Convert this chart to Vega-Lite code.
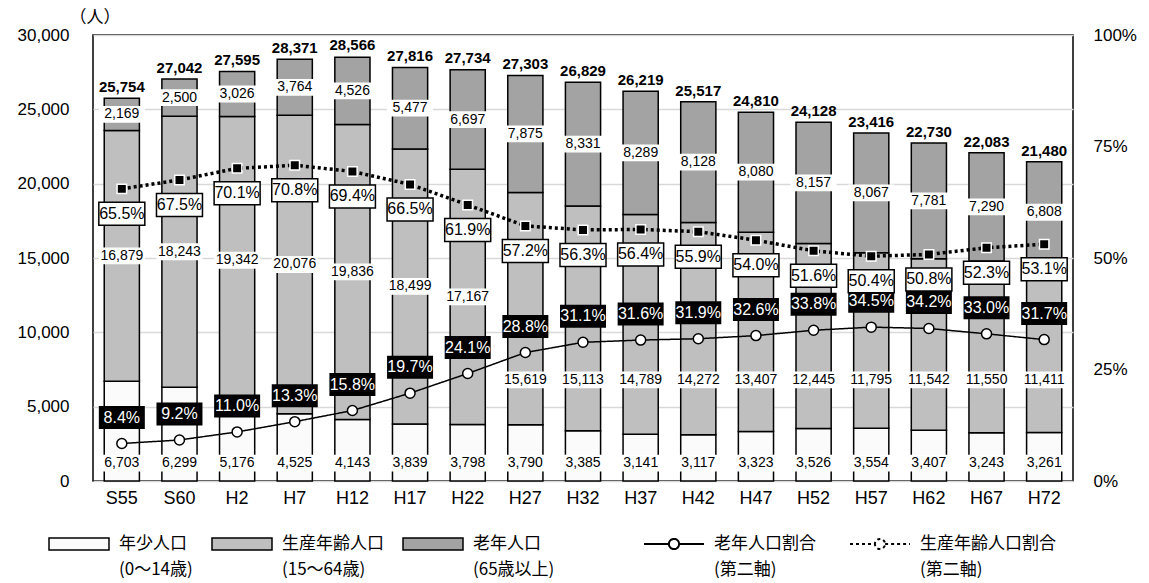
{
  "$schema": "https://vega.github.io/schema/vega-lite/v6.json",
  "width": 980,
  "height": 446,
  "autosize": {"type": "none"},
  "padding": {"left": 93, "top": 35, "right": 76, "bottom": 102},
  "background": "white",
  "config": {
    "view": {"stroke": "black", "strokeWidth": 1.5},
    "axis": {"labelFont": "Liberation Sans", "labelColor": "black"},
    "text": {"font": "Liberation Sans", "color": "black"},
    "style": {"guide-label": {"lineHeight": 26}}
  },
  "data": {
    "values": [
      {"year": "S55", "年少人口": 6703, "生産年齢人口": 16879, "老年人口": 2169, "total": 25754, "老年人口割合": 8.4, "生産年齢人口割合": 65.5},
      {"year": "S60", "年少人口": 6299, "生産年齢人口": 18243, "老年人口": 2500, "total": 27042, "老年人口割合": 9.2, "生産年齢人口割合": 67.5},
      {"year": "H2", "年少人口": 5176, "生産年齢人口": 19342, "老年人口": 3026, "total": 27595, "老年人口割合": 11.0, "生産年齢人口割合": 70.1},
      {"year": "H7", "年少人口": 4525, "生産年齢人口": 20076, "老年人口": 3764, "total": 28371, "老年人口割合": 13.3, "生産年齢人口割合": 70.8},
      {"year": "H12", "年少人口": 4143, "生産年齢人口": 19836, "老年人口": 4526, "total": 28566, "老年人口割合": 15.8, "生産年齢人口割合": 69.4},
      {"year": "H17", "年少人口": 3839, "生産年齢人口": 18499, "老年人口": 5477, "total": 27816, "老年人口割合": 19.7, "生産年齢人口割合": 66.5},
      {"year": "H22", "年少人口": 3798, "生産年齢人口": 17167, "老年人口": 6697, "total": 27734, "老年人口割合": 24.1, "生産年齢人口割合": 61.9},
      {"year": "H27", "年少人口": 3790, "生産年齢人口": 15619, "老年人口": 7875, "total": 27303, "老年人口割合": 28.8, "生産年齢人口割合": 57.2},
      {"year": "H32", "年少人口": 3385, "生産年齢人口": 15113, "老年人口": 8331, "total": 26829, "老年人口割合": 31.1, "生産年齢人口割合": 56.3},
      {"year": "H37", "年少人口": 3141, "生産年齢人口": 14789, "老年人口": 8289, "total": 26219, "老年人口割合": 31.6, "生産年齢人口割合": 56.4},
      {"year": "H42", "年少人口": 3117, "生産年齢人口": 14272, "老年人口": 8128, "total": 25517, "老年人口割合": 31.9, "生産年齢人口割合": 55.9},
      {"year": "H47", "年少人口": 3323, "生産年齢人口": 13407, "老年人口": 8080, "total": 24810, "老年人口割合": 32.6, "生産年齢人口割合": 54.0},
      {"year": "H52", "年少人口": 3526, "生産年齢人口": 12445, "老年人口": 8157, "total": 24128, "老年人口割合": 33.8, "生産年齢人口割合": 51.6},
      {"year": "H57", "年少人口": 3554, "生産年齢人口": 11795, "老年人口": 8067, "total": 23416, "老年人口割合": 34.5, "生産年齢人口割合": 50.4},
      {"year": "H62", "年少人口": 3407, "生産年齢人口": 11542, "老年人口": 7781, "total": 22730, "老年人口割合": 34.2, "生産年齢人口割合": 50.8},
      {"year": "H67", "年少人口": 3243, "生産年齢人口": 11550, "老年人口": 7290, "total": 22083, "老年人口割合": 33.0, "生産年齢人口割合": 52.3},
      {"year": "H72", "年少人口": 3261, "生産年齢人口": 11411, "老年人口": 6808, "total": 21480, "老年人口割合": 31.7, "生産年齢人口割合": 53.1}
    ]
  },
  "encoding": {
    "x": {
      "field": "year",
      "type": "nominal",
      "sort": ["S55","S60","H2","H7","H12","H17","H22","H27","H32","H37","H42","H47","H52","H57","H62","H67","H72"],
      "scale": {"paddingInner": 0.39, "paddingOuter": 0.195},
      "axis": {"title": null, "labelAngle": 0, "labelFontSize": 18, "labelPadding": 8, "ticks": false, "domain": false}
    }
  },
  "layer": [
    {
      "transform": [
        {"fold": ["年少人口", "生産年齢人口", "老年人口"], "as": ["series", "value"]},
        {"calculate": "indexof(['年少人口','生産年齢人口','老年人口'], datum.series)", "as": "ord"}
      ],
      "mark": {"type": "bar", "stroke": "black", "strokeWidth": 1.5},
      "encoding": {
        "y": {
          "field": "value", "type": "quantitative", "stack": "zero",
          "scale": {"domain": [0, 30000]},
          "axis": {
            "title": "（人）", "titleAngle": 0, "titleAlign": "left", "titleBaseline": "middle",
            "titleX": -24, "titleY": -18, "titleFont": "Noto Sans CJK JP", "titleFontSize": 17,
            "titleFontWeight": "normal", "titleColor": "black",
            "values": [0, 5000, 10000, 15000, 20000, 25000, 30000],
            "labelExpr": "format(datum.value, ',')",
            "labelFontSize": 17, "labelPadding": 24, "ticks": false, "domain": false,
            "grid": true, "gridColor": "#d9d9d9", "gridWidth": 1.5
          }
        },
        "color": {
          "field": "series", "type": "nominal",
          "scale": {
            "domain": ["年少人口", "生産年齢人口", "老年人口"],
            "range": ["#fbfbfb", "#bfbfbf", "#a3a3a3"]
          },
          "legend": {
            "orient": "none", "legendX": -45, "legendY": 478, "direction": "horizontal", "columns": 3,
            "title": null, "gridAlign": "none", "columnPadding": 16,
            "symbolType": "M-1,-0.2H1V0.2H-1Z", "symbolSize": 3600, "symbolStrokeColor": "black", "symbolStrokeWidth": 1.5,
            "labelFont": "Noto Sans CJK JP", "labelFontSize": 17, "labelColor": "black", "labelLimit": 400, "labelOffset": 9,
            "labelExpr": "datum.label == '年少人口' ? ['年少人口', '(0～14歳)'] : datum.label == '生産年齢人口' ? ['生産年齢人口', '(15～64歳)'] : ['老年人口', '(65歳以上)']"
          }
        },
        "order": {"field": "ord", "type": "quantitative"}
      }
    },
    {
      "transform": [
        {"fold": ["年少人口", "生産年齢人口", "老年人口"], "as": ["series", "value"]},
        {"calculate": "datum.series == '年少人口' ? 1200 : datum.series == '生産年齢人口' ? (datum['老年人口割合'] >= 25 ? 6800 : datum['年少人口'] + datum['生産年齢人口'] / 2) : datum['年少人口'] + datum['生産年齢人口'] + datum['老年人口'] / 2", "as": "pos"}
      ],
      "mark": {"type": "point", "shape": "M-1.15,-0.42H1.15V0.42H-1.15Z", "size": 1600, "filled": true, "fill": "white", "opacity": 1, "strokeWidth": 0},
      "encoding": {"y": {"field": "pos", "type": "quantitative", "scale": {"domain": [0, 30000]}, "axis": null}}
    },
    {
      "transform": [
        {"fold": ["年少人口", "生産年齢人口", "老年人口"], "as": ["series", "value"]},
        {"calculate": "datum.series == '年少人口' ? 1200 : datum.series == '生産年齢人口' ? (datum['老年人口割合'] >= 25 ? 6800 : datum['年少人口'] + datum['生産年齢人口'] / 2) : datum['年少人口'] + datum['生産年齢人口'] + datum['老年人口'] / 2", "as": "pos"}
      ],
      "mark": {"type": "text", "fontSize": 14, "baseline": "middle"},
      "encoding": {
        "y": {"field": "pos", "type": "quantitative", "scale": {"domain": [0, 30000]}, "axis": null},
        "text": {"field": "value", "type": "quantitative", "format": ","}
      }
    },
    {
      "mark": {"type": "text", "fontSize": 15, "fontWeight": "bold", "baseline": "alphabetic", "dy": -6},
      "encoding": {
        "y": {"field": "total", "type": "quantitative", "scale": {"domain": [0, 30000]}, "axis": null},
        "text": {"field": "total", "type": "quantitative", "format": ","}
      }
    },
    {
      "mark": {"type": "line", "strokeWidth": 1.5, "color": "black"},
      "encoding": {
        "y": {
          "field": "老年人口割合", "type": "quantitative", "scale": {"domain": [0, 100]},
          "axis": {
            "orient": "right", "title": null, "values": [0, 25, 50, 75, 100],
            "labelExpr": "datum.value + '%'", "labelFontSize": 17, "labelPadding": 20,
            "ticks": false, "domain": false, "grid": false
          }
        },
        "strokeDash": {
          "datum": "老年人口割合", "type": "nominal",
          "scale": {"domain": ["老年人口割合", "生産年齢人口割合"], "range": [[1, 0], [3, 3]]},
          "legend": {
            "orient": "none", "legendX": 550, "legendY": 478, "direction": "horizontal", "columns": 2,
            "title": null, "gridAlign": "none", "columnPadding": 30,
            "symbolType": "M-1,0H-0.17A0.17,0.17,0,1,1,0.17,0A0.17,0.17,0,1,1,-0.17,0M0.17,0H1",
            "symbolSize": 3600, "symbolStrokeColor": "black", "symbolFillColor": "white", "symbolStrokeWidth": 2,
            "labelFont": "Noto Sans CJK JP", "labelFontSize": 17, "labelColor": "black", "labelLimit": 400, "labelOffset": 9,
            "labelExpr": "[datum.label, '(第二軸)']"
          }
        }
      }
    },
    {
      "mark": {"type": "line", "strokeWidth": 3.5, "color": "black"},
      "encoding": {
        "y": {"field": "生産年齢人口割合", "type": "quantitative", "scale": {"domain": [0, 100]}, "axis": null},
        "strokeDash": {"datum": "生産年齢人口割合", "type": "nominal"}
      }
    },
    {
      "mark": {"type": "point", "shape": "circle", "size": 100, "filled": true, "fill": "white", "stroke": "black", "strokeWidth": 1.5, "opacity": 1},
      "encoding": {"y": {"field": "老年人口割合", "type": "quantitative", "scale": {"domain": [0, 100]}, "axis": null}}
    },
    {
      "mark": {"type": "point", "shape": "square", "size": 90, "filled": true, "fill": "black", "stroke": "white", "strokeWidth": 1.5, "opacity": 1},
      "encoding": {"y": {"field": "生産年齢人口割合", "type": "quantitative", "scale": {"domain": [0, 100]}, "axis": null}}
    },
    {
      "mark": {"type": "point", "shape": "M-1,-0.5H1V0.5H-1Z", "size": 2116, "filled": true, "fill": "black", "opacity": 1, "strokeWidth": 0, "yOffset": -26},
      "encoding": {"y": {"field": "老年人口割合", "type": "quantitative", "scale": {"domain": [0, 100]}, "axis": null}}
    },
    {
      "transform": [{"calculate": "format(datum['老年人口割合'], '.1f') + '%'", "as": "lab"}],
      "mark": {"type": "text", "fontSize": 16, "color": "white", "baseline": "middle", "yOffset": -26},
      "encoding": {
        "y": {"field": "老年人口割合", "type": "quantitative", "scale": {"domain": [0, 100]}, "axis": null},
        "text": {"field": "lab"}
      }
    },
    {
      "mark": {"type": "point", "shape": "M-1,-0.5H1V0.5H-1Z", "size": 2116, "filled": true, "fill": "white", "stroke": "black", "strokeWidth": 1.5, "opacity": 1, "yOffset": 25},
      "encoding": {"y": {"field": "生産年齢人口割合", "type": "quantitative", "scale": {"domain": [0, 100]}, "axis": null}}
    },
    {
      "transform": [{"calculate": "format(datum['生産年齢人口割合'], '.1f') + '%'", "as": "lab"}],
      "mark": {"type": "text", "fontSize": 16, "color": "black", "baseline": "middle", "yOffset": 25},
      "encoding": {
        "y": {"field": "生産年齢人口割合", "type": "quantitative", "scale": {"domain": [0, 100]}, "axis": null},
        "text": {"field": "lab"}
      }
    }
  ],
  "resolve": {"scale": {"y": "independent"}}
}
